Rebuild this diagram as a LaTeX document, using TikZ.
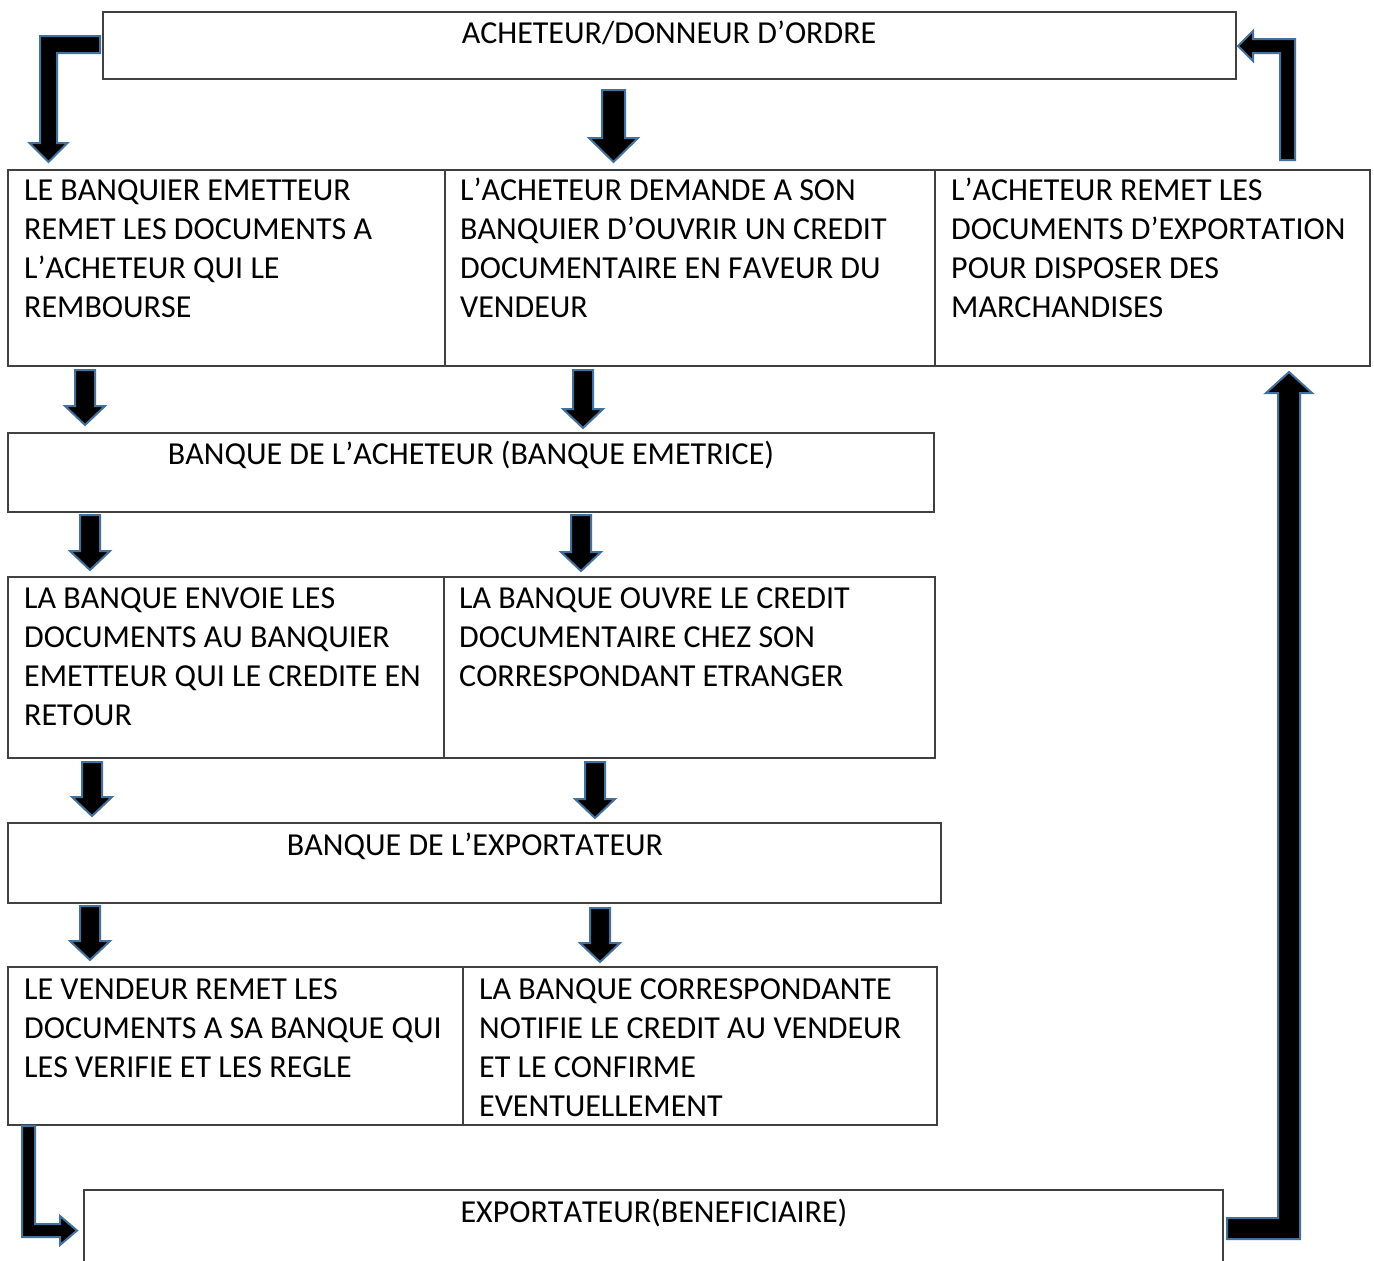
\documentclass[tikz,border=0pt]{standalone}
\usepackage{fontspec}
\setmainfont[Kerning=Off]{Carlito}
\usetikzlibrary{fit}
\definecolor{edgeblue}{RGB}{65,113,156}
\definecolor{boxline}{RGB}{64,64,64}
\tikzset{
  cell/.style={draw=boxline, line width=1.4pt, inner sep=0pt},
  % multi-line cell text: placed by the baseline of its last line
  txt/.style={anchor=base west, inner sep=0pt, align=left,
              font=\fontsize{32}{39}\selectfont},
  ttl/.style={anchor=base, inner sep=0pt,
              font=\fontsize{32}{39}\selectfont},
  blk/.style={fill=black, draw=edgeblue, line width=2pt, line join=miter}
}
% straight block arrow pointing down: centre x, top y, tip y
\newcommand\dnblock[3]{%
  \filldraw[blk] (#1-10,#2) -- (#1+10,#2) -- (#1+10,#3-19) -- (#1+20,#3-19)
    -- (#1,#3) -- (#1-20,#3-19) -- (#1-10,#3-19) -- cycle;}
% rectangular cell named #1 spanning (#2,#3) to (#4,#5)
\newcommand\cellbox[5]{%
  \path (#2,#3) coordinate (#1-a) (#4,#5) coordinate (#1-b);
  \node[cell, fit=(#1-a)(#1-b)] (#1) {};}
\begin{document}
\begin{tikzpicture}[x=1pt, y=-1pt]
\useasboundingbox (0,0) rectangle (1374,1261);
\clip (0,0) rectangle (1374,1261);

% boxes
\cellbox{acheteur}{103}{12}{1236}{79}
\cellbox{remb}{8}{170}{445}{366}
\cellbox{demande}{445}{170}{935}{366}
\cellbox{remet}{935}{170}{1370}{366}
\cellbox{bqach}{8}{433}{934}{512}
\cellbox{envoie}{8}{577}{444}{758}
\cellbox{ouvre}{444}{577}{935}{758}
\cellbox{bqexp}{8}{823}{941}{903}
\cellbox{vendeur}{8}{967}{463}{1125}
\cellbox{notifie}{463}{967}{937}{1125}
\cellbox{exportateur}{84}{1190}{1223}{1300}

% texts
\node[ttl] (t-acheteur) at (669,43) {ACHETEUR/DONNEUR D’ORDRE};
\node[txt] (t-remb) at (24,317) {LE BANQUIER EMETTEUR\\REMET LES DOCUMENTS A\\L’ACHETEUR QUI LE\\REMBOURSE};
\node[txt] (t-demande) at (460,317) {L’ACHETEUR DEMANDE A SON\\BANQUIER D’OUVRIR UN CREDIT\\DOCUMENTAIRE EN FAVEUR DU\\VENDEUR};
\node[txt] (t-remet) at (951,317) {L’ACHETEUR REMET LES\\DOCUMENTS D’EXPORTATION\\POUR DISPOSER DES\\MARCHANDISES};
\node[ttl] (t-bqach) at (471,464) {BANQUE DE L’ACHETEUR (BANQUE EMETRICE)};
\node[txt] (t-envoie) at (24,725) {LA BANQUE ENVOIE LES\\DOCUMENTS AU BANQUIER\\EMETTEUR QUI LE CREDITE EN\\RETOUR};
\node[txt] (t-ouvre) at (459,686) {LA BANQUE OUVRE LE CREDIT\\DOCUMENTAIRE CHEZ SON\\CORRESPONDANT ETRANGER};
\node[ttl] (t-bqexp) at (475,855) {BANQUE DE L’EXPORTATEUR};
\node[txt] (t-vendeur) at (24,1077) {LE VENDEUR REMET LES\\DOCUMENTS A SA BANQUE QUI\\LES VERIFIE ET LES REGLE};
\node[txt] (t-notifie) at (479,1116) {LA BANQUE CORRESPONDANTE\\NOTIFIE LE CREDIT AU VENDEUR\\ET LE CONFIRME\\EVENTUELLEMENT};
\node[ttl] (t-exportateur) at (654,1222) {EXPORTATEUR(BENEFICIAIRE)};

% straight block arrows
\filldraw[blk] (602,90) -- (625,90) -- (625,138) -- (638,138) -- (613.5,162)
  -- (589,138) -- (602,138) -- cycle;
\dnblock{85}{370}{425}
\dnblock{583}{370}{428}
\dnblock{90}{515}{570}
\dnblock{581}{515}{571}
\dnblock{92}{762}{816}
\dnblock{595}{762}{818}
\dnblock{90}{906}{960}
\dnblock{600}{908}{962}

% bent block arrows
\filldraw[blk] (100,36) -- (40,36) -- (40,143) -- (29.5,143) -- (48.5,162)
  -- (67.5,143) -- (57,143) -- (57,53) -- (100,53) -- cycle;
\filldraw[blk] (1280,160) -- (1295,160) -- (1295,39) -- (1253,39) -- (1253,31)
  -- (1238,46) -- (1253,61) -- (1253,53) -- (1280,53) -- cycle;
\filldraw[blk] (1227,1218) -- (1278,1218) -- (1278,393) -- (1266,393)
  -- (1289,372) -- (1312,393) -- (1300,393) -- (1300,1239) -- (1227,1239) -- cycle;
\filldraw[blk] (22,1126) -- (35,1126) -- (35,1224) -- (60,1224) -- (60,1216)
  -- (77,1230.5) -- (60,1245) -- (60,1237) -- (22,1237) -- cycle;
\end{tikzpicture}
\end{document}
